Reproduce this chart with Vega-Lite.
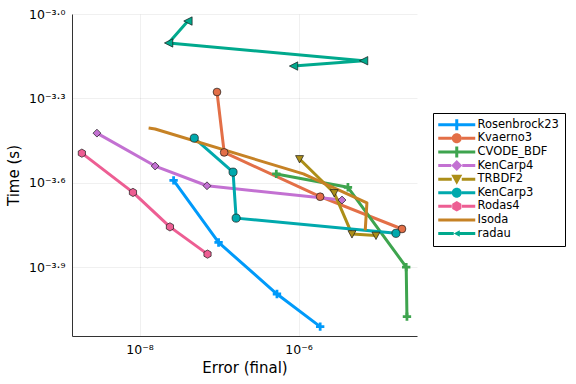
{
  "$schema": "https://vega.github.io/schema/vega-lite/v6.json",
  "width": 345,
  "height": 322,
  "autosize": "none",
  "padding": {"left": 72, "top": 14, "right": 159, "bottom": 48},
  "background": "white",
  "config": {
    "view": {"stroke": null},
    "font": "DejaVu Sans",
    "axis": {
      "labelFont": "DejaVu Sans",
      "titleFont": "DejaVu Sans",
      "labelFontSize": 12.5,
      "titleFontSize": 15,
      "titleFontWeight": "normal",
      "labelColor": "#000000",
      "titleColor": "#000000",
      "domainColor": "#333333",
      "domainWidth": 1,
      "gridColor": "#000000",
      "gridOpacity": 0.1,
      "gridWidth": 0.6,
      "tickSize": 0,
      "labelPadding": 7
    }
  },
  "data": {
    "values": [
      {"solver": "Rosenbrock23", "i": 1, "error": 2.68e-8, "time": 2.56e-4},
      {"solver": "Rosenbrock23", "i": 2, "error": 9.86e-8, "time": 1.54e-4},
      {"solver": "Rosenbrock23", "i": 3, "error": 5.35e-7, "time": 1.01e-4},
      {"solver": "Rosenbrock23", "i": 4, "error": 1.87e-6, "time": 7.73e-5},
      {"solver": "Kvaerno3", "i": 1, "error": 9.42e-8, "time": 5.28e-4},
      {"solver": "Kvaerno3", "i": 2, "error": 1.16e-7, "time": 3.22e-4},
      {"solver": "Kvaerno3", "i": 3, "error": 1.87e-6, "time": 2.24e-4},
      {"solver": "Kvaerno3", "i": 4, "error": 2.0e-5, "time": 1.72e-4},
      {"solver": "CVODE_BDF", "i": 1, "error": 5.25e-7, "time": 2.70e-4},
      {"solver": "CVODE_BDF", "i": 2, "error": 4.18e-6, "time": 2.42e-4},
      {"solver": "CVODE_BDF", "i": 3, "error": 2.26e-5, "time": 1.259e-4},
      {"solver": "CVODE_BDF", "i": 4, "error": 2.31e-5, "time": 8.39e-5},
      {"solver": "KenCarp4", "i": 1, "error": 2.91e-9, "time": 3.77e-4},
      {"solver": "KenCarp4", "i": 2, "error": 1.57e-8, "time": 2.88e-4},
      {"solver": "KenCarp4", "i": 3, "error": 7.05e-8, "time": 2.45e-4},
      {"solver": "KenCarp4", "i": 4, "error": 3.52e-6, "time": 2.18e-4},
      {"solver": "TRBDF2", "i": 1, "error": 1.03e-6, "time": 3.05e-4},
      {"solver": "TRBDF2", "i": 2, "error": 2.81e-6, "time": 2.31e-4},
      {"solver": "TRBDF2", "i": 3, "error": 4.70e-6, "time": 1.65e-4},
      {"solver": "TRBDF2", "i": 4, "error": 9.42e-6, "time": 1.63e-4},
      {"solver": "KenCarp3", "i": 1, "error": 4.88e-8, "time": 3.62e-4},
      {"solver": "KenCarp3", "i": 2, "error": 1.50e-7, "time": 2.74e-4},
      {"solver": "KenCarp3", "i": 3, "error": 1.64e-7, "time": 1.88e-4},
      {"solver": "KenCarp3", "i": 4, "error": 1.68e-5, "time": 1.66e-4},
      {"solver": "Rodas4", "i": 1, "error": 1.88e-9, "time": 3.20e-4},
      {"solver": "Rodas4", "i": 2, "error": 8.26e-9, "time": 2.32e-4},
      {"solver": "Rodas4", "i": 3, "error": 2.41e-8, "time": 1.75e-4},
      {"solver": "Rodas4", "i": 4, "error": 7.16e-8, "time": 1.40e-4},
      {"solver": "Isoda", "i": 1, "error": 1.30e-8, "time": 3.93e-4},
      {"solver": "Isoda", "i": 2, "error": 1.57e-8, "time": 3.90e-4},
      {"solver": "Isoda", "i": 3, "error": 1.15e-6, "time": 2.70e-4},
      {"solver": "Isoda", "i": 4, "error": 7.24e-6, "time": 2.13e-4},
      {"solver": "Isoda", "i": 5, "error": 6.90e-6, "time": 1.70e-4},
      {"solver": "radau", "i": 1, "error": 4.06e-8, "time": 9.44e-4},
      {"solver": "radau", "i": 2, "error": 2.32e-8, "time": 7.89e-4},
      {"solver": "radau", "i": 3, "error": 6.58e-6, "time": 6.82e-4},
      {"solver": "radau", "i": 4, "error": 8.65e-7, "time": 6.53e-4}
    ]
  },
  "encoding": {
    "x": {
      "field": "error",
      "type": "quantitative",
      "title": "Error (final)",
      "scale": {"type": "log", "domain": [1.413e-9, 3.09e-5], "nice": false},
      "axis": {
        "values": [1e-8, 1e-6],
        "labelExpr": "'10' + (datum.value < 1e-7 ? '⁻⁸' : '⁻⁶')",
        "titlePadding": 5
      }
    },
    "y": {
      "field": "time",
      "type": "quantitative",
      "title": "Time (s)",
      "scale": {"type": "log", "domain": [7.161e-5, 1e-3], "nice": false},
      "axis": {
        "values": [1e-3, 5.01187e-4, 2.51189e-4, 1.25893e-4],
        "labelExpr": "'10⁻³·' + (datum.value > 7e-4 ? '⁰' : datum.value > 3.5e-4 ? '³' : datum.value > 1.8e-4 ? '⁶' : '⁹')",
        "titlePadding": 7
      }
    }
  },
  "layer": [
    {
      "mark": {"type": "line", "strokeWidth": 3, "strokeJoin": "round", "strokeCap": "butt"},
      "encoding": {
        "order": {"field": "i", "type": "quantitative"},
        "color": {
          "field": "solver",
          "type": "nominal",
          "scale": {
            "domain": ["Rosenbrock23", "Kvaerno3", "CVODE_BDF", "KenCarp4", "TRBDF2", "KenCarp3", "Rodas4", "Isoda", "radau"],
            "range": ["#009AFA", "#E36F47", "#3EA44E", "#C371D2", "#AC8E18", "#00A9AD", "#ED5E93", "#C68225", "#00A98D"]
          },
          "legend": {
            "title": null,
            "orient": "none",
            "legendX": 361,
            "legendY": 99,
            "direction": "vertical",
            "padding": 6,
            "strokeColor": "#000000",
            "fillColor": "#ffffff",
            "cornerRadius": 0,
            "labelFont": "DejaVu Sans",
            "labelFontSize": 11.5,
            "labelColor": "#000000",
            "symbolSize": 100,
            "symbolOffset": 12,
            "labelOffset": 15,
            "rowPadding": 0.6,
            "symbolStrokeWidth": 0,
            "encode": {
              "symbols": {
                "update": {
                  "fill": {"scale": "color", "field": "value"},
                  "stroke": {"value": "transparent"},
                  "strokeWidth": {"value": 0},
                  "opacity": {"value": 1},
                  "shape": {"signal": "(datum.value === 'Rosenbrock23' || datum.value === 'CVODE_BDF') ? 'M-3.7,-0.3H3.7V0.3H-3.7Z M-0.3,-1.1H0.3V-0.3H1.1V0.3H0.3V1.1H-0.3V0.3H-1.1V-0.3H-0.3Z' : (datum.value === 'Kvaerno3' || datum.value === 'KenCarp3') ? 'M-3.7,-0.3H-1V0.3H-3.7Z M1,-0.3H3.7V0.3H1Z M1,0A1,1 0 1,1 -1,0A1,1 0 1,1 1,0Z' : datum.value === 'Rodas4' ? 'M-3.7,-0.3H-1V0.3H-3.7Z M1,-0.3H3.7V0.3H1Z M0,-1.05L0.91,-0.525L0.91,0.525L0,1.05L-0.91,0.525L-0.91,-0.525Z' : datum.value === 'KenCarp4' ? 'M-3.7,-0.3H-1.1V0.3H-3.7Z M1.1,-0.3H3.7V0.3H1.1Z M0,-1.1L1.1,0L0,1.1L-1.1,0Z' : datum.value === 'TRBDF2' ? 'M-3.7,-0.3H-1V0.3H-3.7Z M1,-0.3H3.7V0.3H1Z M-1.1,-0.9H1.1L0,1.1Z' : datum.value === 'radau' ? 'M-3.7,-0.3H-0.6V0.3H-3.7Z M0.6,-0.3H3.7V0.3H0.6Z M-0.6,0L0.6,-0.65V0.65Z' : 'M-3.7,-0.3H3.7V0.3H-3.7Z'"}
                }
              }
            }
          }
        }
      }
    },
    {
      "transform": [{"filter": "datum.solver === 'Rosenbrock23' || datum.solver === 'CVODE_BDF'"}],
      "mark": {"type": "point", "filled": true, "opacity": 1, "strokeWidth": 0},
      "encoding": {
        "fill": {
          "field": "solver",
          "type": "nominal",
          "scale": {
            "domain": ["Rosenbrock23", "Kvaerno3", "CVODE_BDF", "KenCarp4", "TRBDF2", "KenCarp3", "Rodas4", "Isoda", "radau"],
            "range": ["#009AFA", "#E36F47", "#3EA44E", "#C371D2", "#AC8E18", "#00A9AD", "#ED5E93", "#C68225", "#00A98D"]
          },
          "legend": null
        },
        "shape": {"value": "M-0.33,-1H0.33V-0.33H1V0.33H0.33V1H-0.33V0.33H-1V-0.33H-0.33Z"},
        "size": {"value": 70}
      }
    },
    {
      "transform": [{"filter": "datum.solver !== 'Rosenbrock23' && datum.solver !== 'CVODE_BDF' && datum.solver !== 'Isoda'"}],
      "mark": {"type": "point", "filled": true, "opacity": 1, "stroke": "#1a1a1a", "strokeWidth": 0.7},
      "encoding": {
        "fill": {
          "field": "solver",
          "type": "nominal",
          "scale": {
            "domain": ["Rosenbrock23", "Kvaerno3", "CVODE_BDF", "KenCarp4", "TRBDF2", "KenCarp3", "Rodas4", "Isoda", "radau"],
            "range": ["#009AFA", "#E36F47", "#3EA44E", "#C371D2", "#AC8E18", "#00A9AD", "#ED5E93", "#C68225", "#00A98D"]
          },
          "legend": null
        },
        "shape": {
          "field": "solver",
          "type": "nominal",
          "scale": {
            "domain": ["Kvaerno3", "KenCarp4", "TRBDF2", "KenCarp3", "Rodas4", "radau"],
            "range": ["circle", "diamond", "M-1,-0.85H1L0,1Z", "circle", "M0,-1L0.87,-0.5L0.87,0.5L0,1L-0.87,0.5L-0.87,-0.5Z", "M-1,0L1,-1V1Z"]
          },
          "legend": null
        },
        "size": {
          "field": "solver",
          "type": "nominal",
          "scale": {
            "domain": ["Kvaerno3", "KenCarp4", "TRBDF2", "KenCarp3", "Rodas4", "radau"],
            "range": [60, 70, 55, 60, 60, 22]
          },
          "legend": null
        }
      }
    }
  ]
}
